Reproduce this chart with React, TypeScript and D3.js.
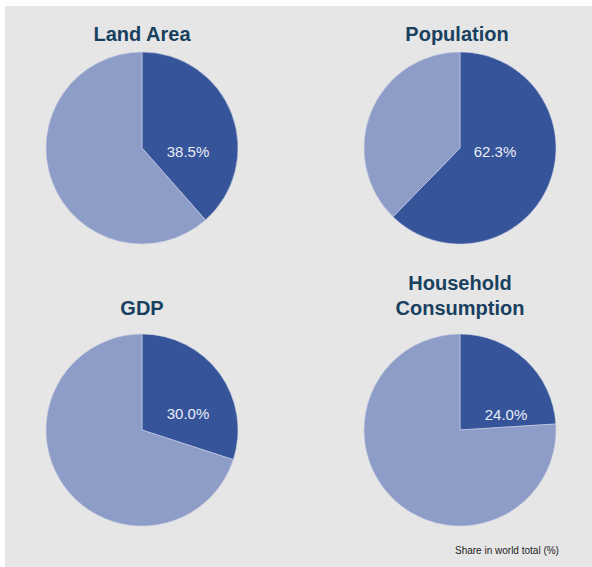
import { useEffect, useRef } from "react";
import * as d3 from "d3";

// Share in world total (%)
const titles: string[][] = [
  ["Land Area"],
  ["Population"],
  ["GDP"],
  ["Household", "Consumption"],
];
const shares: number[] = [38.5, 62.3, 30.0, 24.0];
const footnote = "Share in world total (%)";

const WIDTH = 592;
const HEIGHT = 567;

// layout (not data): pie centres, radius, label nudges
const cols = [142, 460];
const rows = [148, 430];
const radius = 96;
const labelNudge: [number, number][] = [
  [46, 3],
  [35, 3],
  [46, -17],
  [46, -16],
];

const darkColor = "#36549a";
const lightColor = "#8e9cc8";
const titleColor = "#18405f";

export default function App() {
  const svgRef = useRef<SVGSVGElement | null>(null);

  useEffect(() => {
    if (!svgRef.current) return;
    const svg = d3.select(svgRef.current);
    svg.selectAll("*").remove();

    // panel background
    svg
      .append("rect")
      .attr("x", 5)
      .attr("y", 6)
      .attr("width", WIDTH - 5)
      .attr("height", HEIGHT - 6)
      .attr("fill", "#e6e6e6");

    const pie = d3
      .pie<number>()
      .sort(null)
      .value((d) => d);
    const arc = d3.arc<d3.PieArcDatum<number>>().innerRadius(0).outerRadius(radius);

    shares.forEach((share, i) => {
      const cx = cols[i % 2];
      const cy = rows[Math.floor(i / 2)];
      const g = svg.append("g").attr("transform", `translate(${cx},${cy})`);

      g.selectAll("path")
        .data(pie([share, 100 - share]))
        .enter()
        .append("path")
        .attr("d", arc)
        .attr("fill", (_d, j) => (j === 0 ? darkColor : lightColor))
        .attr("stroke", "#c9d0e4")
        .attr("stroke-width", 0.6);

      g.append("text")
        .attr("x", labelNudge[i][0])
        .attr("y", labelNudge[i][1])
        .attr("text-anchor", "middle")
        .attr("dominant-baseline", "central")
        .attr("font-family", "Liberation Sans, Arial, sans-serif")
        .attr("font-size", 15)
        .attr("fill", "#e8edf6")
        .text(`${share.toFixed(1)}%`);

      // titles
      const lines = titles[i];
      const baseY = i < 2 ? 41 : 315;
      lines.forEach((line, k) => {
        svg
          .append("text")
          .attr("x", i === 1 ? cx - 3 : cx)
          .attr("y", baseY - (lines.length - 1 - k) * 25)
          .attr("text-anchor", "middle")
          .attr("font-family", "Liberation Sans, Arial, sans-serif")
          .attr("font-weight", "bold")
          .attr("font-size", 20)
          .attr("fill", titleColor)
          .text(line);
      });
    });

    svg
      .append("text")
      .attr("x", 455)
      .attr("y", 554)
      .attr("font-family", "Liberation Sans, Arial, sans-serif")
      .attr("font-size", 10)
      .attr("fill", "#222")
      .text(footnote);
  }, []);

  return (
    <svg
      ref={svgRef}
      width={WIDTH}
      height={HEIGHT}
      style={{ position: "absolute", left: 0, top: 0, background: "#fff" }}
    />
  );
}
